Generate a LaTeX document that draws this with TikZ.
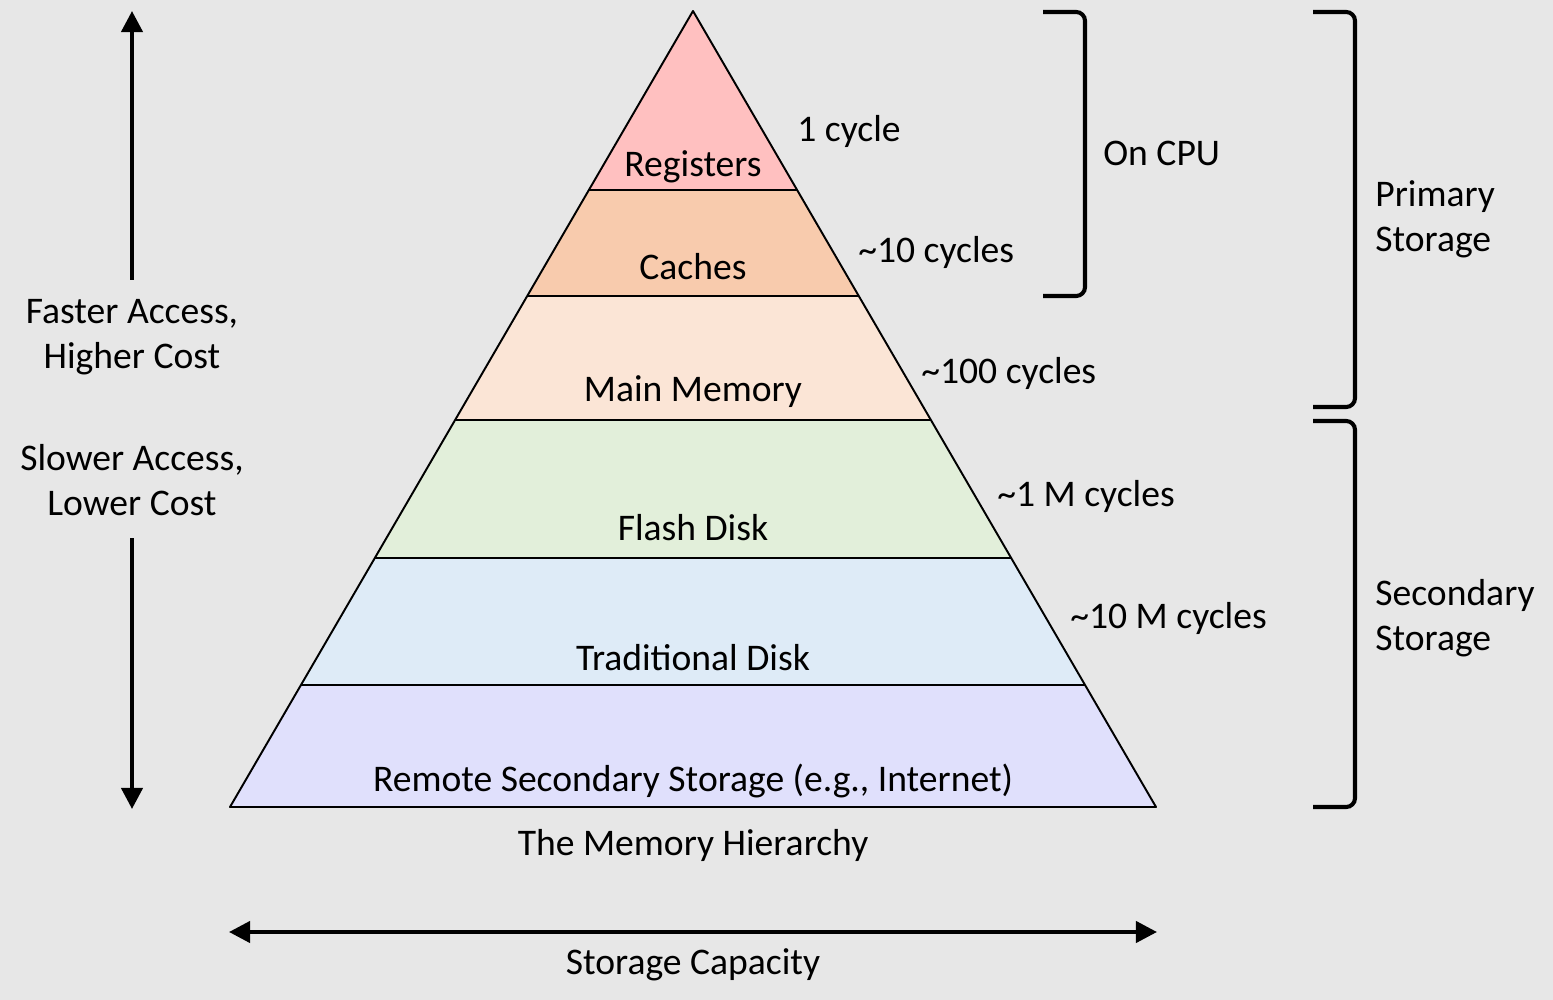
\documentclass[tikz,border=0pt]{standalone}
\usepackage{fontspec}
\setmainfont{Carlito}
\usetikzlibrary{calc, arrows.meta, positioning}
\definecolor{bgGray}{HTML}{E7E7E7}
\definecolor{regPink}{HTML}{FFC0C0}
\definecolor{cacheOrange}{HTML}{F8CBAD}
\definecolor{memPeach}{HTML}{FBE5D6}
\definecolor{flashGreen}{HTML}{E2EFDA}
\definecolor{diskBlue}{HTML}{DEEBF7}
\definecolor{remoteLilac}{HTML}{E0E0FC}
\tikzset{
    layer/.style={draw=black, line width=1.1pt, line join=round},
    txt/.style={inner sep=0pt, anchor=base},
    lbl/.style={inner sep=0pt, anchor=base west},
    bigarrow/.style={line width=2.3pt, -{Triangle[length=12pt,width=12pt]}},
    bracket/.style={line width=2.3pt, rounded corners=5pt},
}
\begin{document}
\begin{tikzpicture}[x=0.02cm, y=-0.02cm, font=\fontsize{21.4}{25.5}\selectfont]
    \useasboundingbox[fill=bgGray] (0,0) rectangle (1553,1000);
    \coordinate (A) at (693,11);
    \coordinate (BL) at (230,807);
    \coordinate (BR) at (1156,807);
    % layer borders on the two sides
    \foreach \n/\t in {1/0.2249, 2/0.3580, 3/0.5138, 4/0.6872, 5/0.8467}{
        \coordinate (L\n) at ($(A)!\t!(BL)$);
        \coordinate (R\n) at ($(A)!\t!(BR)$);
    }
    \fill[regPink] (A) -- (L1) -- (R1) -- cycle;
    \fill[cacheOrange] (L1) -- (L2) -- (R2) -- (R1) -- cycle;
    \fill[memPeach] (L2) -- (L3) -- (R3) -- (R2) -- cycle;
    \fill[flashGreen] (L3) -- (L4) -- (R4) -- (R3) -- cycle;
    \fill[diskBlue] (L4) -- (L5) -- (R5) -- (R4) -- cycle;
    \fill[remoteLilac] (L5) -- (BL) -- (BR) -- (R5) -- cycle;
    \draw[layer] (A) -- (BL) -- (BR) -- cycle;
    \foreach \n in {1,...,5}
        \draw[layer] (L\n) -- (R\n);

    % layer names
    \node[txt] (reg) at (693,177) {Registers};
    \node[txt] (cache) at (693,280) {Caches};
    \node[txt] (mem) at (693,401) {Main Memory};
    \node[txt] (flash) at (693,540) {Flash Disk};
    \node[txt] (disk) at (693,670) {Traditional Disk};
    \node[txt] (remote) at (693,791) {Remote Secondary Storage (e.g., Internet)};
    \node[txt] (title) at (693,855) {The Memory Hierarchy};

    % access times
    \node[lbl] (t1) at (797,142) {1 cycle};
    \node[lbl] (t2) at (858,263) {\textasciitilde10 cycles};
    \node[lbl] (t3) at (921,384) {\textasciitilde100 cycles};
    \node[lbl] (t4) at (997,506) {\textasciitilde1 M cycles};
    \node[lbl] (t5) at (1070,628) {\textasciitilde10 M cycles};

    % left side: speed and cost
    \node[align=center, inner sep=0pt] (fast) at (132,337) {Faster Access,\\Higher Cost};
    \node[align=center, inner sep=0pt] (slow) at (132,480) {Slower Access,\\Lower Cost};
    \coordinate (upstart) at (132,280);
    \coordinate (uptip) at (132,11);
    \coordinate (downstart) at (132,538);
    \coordinate (downtip) at (132,809);
    \draw[bigarrow] (upstart) -- (uptip);
    \draw[bigarrow] (downstart) -- (downtip);

    % bottom: capacity
    \coordinate (capL) at (229,932);
    \coordinate (capR) at (1157,932);
    \draw[bigarrow, {Triangle[length=12pt,width=12pt]}-{Triangle[length=12pt,width=12pt]}] (capL) -- (capR);
    \node[txt] (cap) at (693,974) {Storage Capacity};

    % right side: brackets
    \draw[bracket] (1043,12) -- (1085,12) -- (1085,296) -- (1043,296);
    \node[lbl] (cpu) at (1103,166) {On CPU};
    \draw[bracket] (1313,12) -- (1355,12) -- (1355,407) -- (1313,407);
    \node[align=left, inner sep=0pt, anchor=west] (prim) at (1375,219) {Primary\\Storage};
    \draw[bracket] (1313,421) -- (1355,421) -- (1355,807) -- (1313,807);
    \node[align=left, inner sep=0pt, anchor=west] (sec) at (1375,618) {Secondary\\Storage};
\end{tikzpicture}
\end{document}
